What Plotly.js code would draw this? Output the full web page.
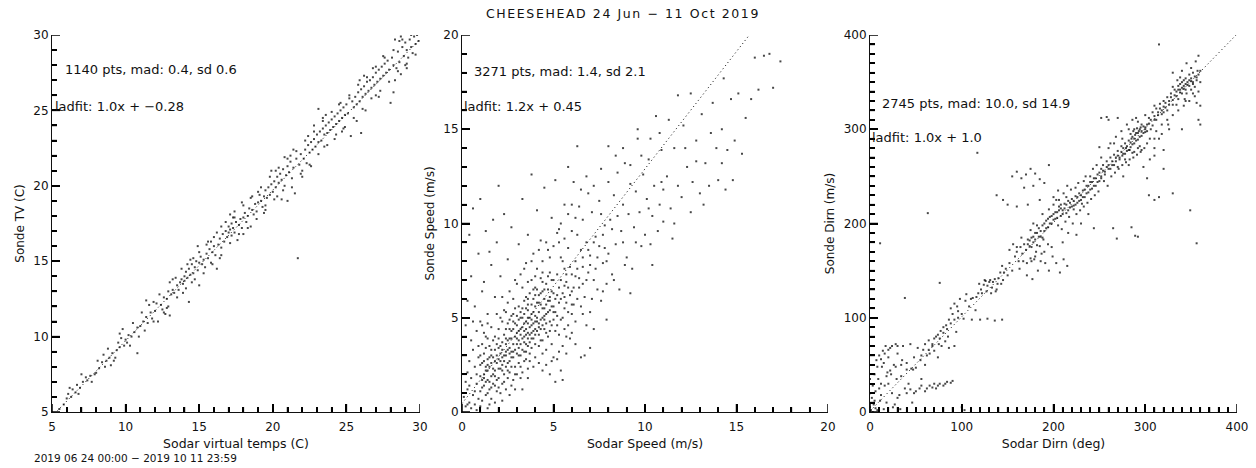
<!DOCTYPE html>
<html>
<head>
<meta charset="utf-8">
<script src="https://cdn.plot.ly/plotly-3.0.1.min.js"></script>
<style>
  html, body { margin: 0; padding: 0; background: #fff; }
  #chart { width: 1256px; height: 468px; }
  .gtitle { letter-spacing: 1.6px; }
</style>
</head>
<body>
<div id="chart"></div>
<script>
const tempPts = [
[5.5,5.2],[5.8,5.5],[6.0,5.9],[6.1,6.2],[6.3,6.0],[6.4,6.5],[6.6,6.3],[6.7,6.8],[6.9,6.6],[7.1,7.0],[7.3,7.3],[7.4,7.1],[7.6,7.4],[7.9,7.5],[8.2,7.9],[8.4,8.3],[8.5,8.8],[8.7,8.4],[8.9,8.6],[9.1,8.9],[9.2,8.4],[9.4,9.1],[9.5,9.6],[9.6,9.3],[9.8,10.5],[9.9,9.4],[10.0,9.8],[10.1,9.6],[10.2,10.1],[10.4,10.0],[10.8,8.9],[9.0,8.1],[8.0,7.6],[9.7,9.9],
[10.6,10.3],[10.8,10.6],[11.0,10.7],[11.2,11.0],[11.4,11.3],[11.5,10.9],[11.7,11.6],[11.8,11.2],[12.0,11.7],[12.1,12.2],[12.2,11.0],[12.4,12.1],[12.5,11.8],[12.6,12.6],[12.8,12.5],[12.9,13.0],[13.0,11.4],[13.1,12.8],[12.7,11.5],[11.9,12.3],
[13.2,13.1],[13.3,12.9],[13.5,13.4],[13.6,13.1],[13.7,13.6],[13.8,13.8],[13.9,13.5],[14.0,14.0],[14.0,13.7],[14.1,14.3],[14.2,13.9],[14.3,14.5],[14.3,12.3],[14.4,14.1],[14.5,14.8],[14.5,13.6],[14.6,14.2],[14.7,14.6],[14.8,15.0],[14.9,14.4],[15.0,14.9],[15.0,13.4],[15.1,15.3],[15.2,14.8],[15.3,15.1],[15.4,14.6],[15.5,15.5],[15.6,15.2],[15.7,15.8],[15.8,14.9],[15.9,15.6],[16.0,16.0],[16.1,15.4],[13.4,13.9],[14.6,15.2],[15.8,16.3],[16.2,14.5],[13.9,12.9],
[16.3,16.1],[16.4,16.5],[16.5,15.9],[16.6,16.8],[16.7,16.3],[16.8,17.0],[16.9,16.6],[17.0,17.3],[17.0,16.9],[17.1,17.1],[17.2,17.5],[17.2,16.7],[17.3,17.2],[17.4,18.3],[17.4,16.9],[17.5,17.6],[17.6,16.4],[17.7,17.4],[17.8,17.8],[17.9,17.2],[18.0,17.9],[18.1,18.2],[18.2,17.6],[18.3,18.0],[18.4,18.5],[18.5,17.3],[18.6,18.4],[18.7,18.1],[18.8,18.8],[18.9,18.3],[19.0,18.9],[19.1,19.4],[17.1,18.1],[16.5,17.3],[18.0,16.8],
[19.2,19.0],[19.3,18.6],[19.4,19.3],[19.5,19.7],[19.6,19.2],[19.7,19.9],[19.8,19.4],[19.9,20.1],[20.0,19.6],[20.1,20.3],[20.2,19.9],[20.3,20.6],[20.3,19.3],[20.4,20.2],[20.5,20.8],[20.6,20.4],[20.7,21.1],[20.8,20.0],[20.9,20.7],[21.0,21.3],[21.0,19.0],[21.1,20.9],[21.2,21.6],[21.3,20.5],[21.4,21.2],[21.5,19.5],[21.6,21.8],[21.7,15.2],[21.8,21.4],[21.9,22.1],[22.0,21.0],[19.5,18.4],[20.6,19.1],[19.9,21.0],[21.4,22.4],
[22.1,21.8],[22.2,22.4],[22.3,21.5],[22.4,22.7],[22.5,22.2],[22.6,22.9],[22.7,22.4],[22.8,23.1],[22.9,22.6],[23.0,23.4],[23.1,25.1],[23.1,22.9],[23.2,23.6],[23.3,23.0],[23.4,23.8],[23.5,23.4],[23.6,24.0],[23.7,23.5],[23.8,24.2],[23.9,23.7],[24.0,24.4],[24.1,23.9],[24.2,24.6],[24.3,24.1],[24.4,24.8],[24.5,24.3],[24.6,25.0],[24.7,24.5],[24.8,25.2],[24.9,24.7],[25.0,25.4],[25.1,24.8],[25.3,23.3],[25.4,25.6],[24.2,23.1],[23.5,22.6],[22.8,24.0],[24.8,23.8],
[25.5,25.2],[25.6,25.9],[25.7,25.4],[25.8,26.2],[25.9,25.6],[26.0,26.4],[26.0,23.5],[26.1,25.9],[26.2,26.6],[26.3,26.1],[26.4,26.9],[26.5,26.3],[26.6,27.0],[26.7,26.5],[26.8,27.2],[26.9,26.7],[27.0,27.5],[27.1,26.9],[27.2,27.7],[27.3,27.1],[27.4,27.9],[27.5,27.3],[27.6,28.1],[27.7,27.5],[27.8,28.3],[27.9,27.7],[28.0,25.5],[26.3,25.0],[25.7,24.3],[27.0,26.0],
[28.1,28.5],[28.2,26.2],[28.3,27.0],[28.3,29.7],[28.4,27.8],[28.5,28.9],[28.6,28.2],[28.7,27.4],[28.8,29.2],[28.9,28.6],[29.0,29.5],[29.1,29.0],[29.2,28.5],[29.3,29.7],[29.4,29.2],[29.5,28.8],[29.6,29.9],[29.7,29.4],[29.8,30.0],[29.9,29.6],[29.1,27.8],[28.6,29.6],[28.2,28.0],
[6.2,6.6],[6.8,6.2],[7.0,7.5],[7.7,7.0],[8.1,8.4],[8.6,8.0],[8.8,9.2],[9.3,8.6],[9.6,10.2],[10.3,9.4],[10.5,10.9],[10.9,10.0],[11.1,11.6],[11.3,10.4],[11.6,12.1],[11.9,11.0],[12.3,12.8],[12.6,11.6],[12.9,12.0],[13.2,13.8],[13.5,12.6],[13.8,14.5],[14.1,13.2],[14.4,15.1],[14.7,13.8],[15.0,15.6],[15.3,14.2],[15.6,16.3],[15.9,14.8],[16.2,16.9],[16.5,15.4],[16.8,17.6],[17.1,16.2],[17.4,17.9],[17.7,16.8],[18.0,18.7],[18.3,17.2],[18.6,19.3],[18.9,17.8],[19.2,19.9],[19.5,18.7],[19.8,20.6],[20.1,19.1],[20.4,21.2],[20.7,19.7],[21.0,21.8],[21.3,19.9],[21.6,22.3],[21.9,20.8],[22.2,23.0],[22.5,21.4],[22.8,23.6],[23.1,22.1],[23.4,24.3],[23.7,22.7],[24.0,24.9],[24.3,23.4],[24.6,25.5],[24.9,23.9],[25.2,26.0],[25.5,24.5],[25.8,26.7],[26.1,25.1],[26.4,27.2],[26.7,25.8],[27.0,27.9],[27.3,26.3],[27.6,28.5],[27.9,26.9],[28.2,29.0],[28.5,27.6],[28.8,29.7],[29.1,28.1],[29.4,30.0],[29.7,28.7],[29.0,28.0],[23.4,24.5],[20.2,21.0],[17.3,17.9],[14.2,14.8],[26.8,27.8],[25.2,25.8],[22.4,23.3],[19.0,19.6],[16.0,16.6],[13.0,13.6],[21.2,22.0],[24.5,25.4],[27.5,28.6],[18.5,19.2],[15.5,16.1],
[11.4,12.4],[12.8,11.9],[14.9,16.0],[16.4,15.2],[17.9,18.9],[19.4,18.2],[20.8,21.9],[22.0,20.6],[23.6,24.7],[24.7,23.6],[26.2,27.3],[27.2,25.9],[28.7,29.9],[25.9,27.0],[22.6,21.3]
];

const speedPts = [
[0.1,0.8],[0.2,0.3],[0.3,1.2],[0.4,0.5],[0.5,1.8],[0.5,0.2],[0.6,0.9],[0.7,2.4],[0.7,0.4],[0.8,1.5],[0.9,0.7],[0.9,2.9],[0.3,2.1],[0.6,3.3],[0.8,0.1],[1.0,1.1],[0.2,1.6],[0.4,2.7],
[1.0,1.9],[1.1,2.6],[1.1,0.6],[1.2,1.4],[1.2,3.1],[1.3,2.2],[1.3,0.9],[1.4,1.7],[1.4,2.8],[1.5,1.2],[1.5,2.4],[1.5,3.5],[1.6,1.9],[1.6,0.7],[1.7,2.9],[1.7,1.5],[1.8,2.2],[1.8,3.3],[1.9,1.1],[1.9,2.6],[2.0,1.8],[2.0,3.9],[1.2,2.0],[1.4,1.0],[1.6,2.6],[1.8,1.4],[1.1,3.6],[1.3,1.6],[1.5,0.4],[1.7,3.8],[1.9,3.0],[1.0,2.5],[1.2,4.2],[1.4,3.9],
[2.1,2.3],[2.1,3.5],[2.2,1.5],[2.2,2.9],[2.3,4.1],[2.3,2.0],[2.4,3.2],[2.4,1.2],[2.5,2.6],[2.5,3.8],[2.5,4.7],[2.6,2.1],[2.6,3.4],[2.7,2.9],[2.7,4.3],[2.8,1.7],[2.8,3.6],[2.8,5.2],[2.9,2.4],[2.9,4.0],[3.0,3.1],[3.0,4.6],[2.2,3.7],[2.4,2.4],[2.6,4.9],[2.3,5.4],[2.7,1.4],[2.9,3.3],[2.1,1.0],[2.5,5.8],[2.6,2.7],[2.8,4.4],[2.3,2.7],[2.7,3.9],[2.4,4.4],[2.9,5.5],[2.0,2.8],[2.2,4.8],
[3.1,3.8],[3.1,2.6],[3.2,4.4],[3.2,5.3],[3.3,3.3],[3.3,2.1],[3.4,4.0],[3.4,5.9],[3.5,3.6],[3.5,4.8],[3.5,2.8],[3.6,5.4],[3.6,4.2],[3.7,3.1],[3.7,6.3],[3.8,4.6],[3.8,5.7],[3.9,3.9],[3.9,2.4],[4.0,5.1],[4.0,6.6],[3.2,3.0],[3.4,4.7],[3.6,3.5],[3.8,3.4],[3.3,5.0],[3.1,4.9],[3.5,6.1],[3.7,4.5],[3.9,5.3],[3.0,2.0],[3.6,2.3],[3.3,6.6],[3.8,7.0],[3.4,3.7],[3.2,1.8],[3.9,4.3],[3.7,5.0],[3.5,4.1],[3.1,5.6],
[4.1,4.3],[4.1,5.8],[4.2,3.5],[4.2,6.2],[4.3,4.9],[4.3,7.1],[4.4,5.5],[4.4,3.1],[4.5,6.0],[4.5,4.4],[4.6,6.8],[4.6,5.2],[4.7,4.0],[4.7,5.9],[4.8,7.4],[4.8,4.8],[4.9,6.4],[4.9,3.6],[5.0,5.6],[5.0,7.0],[4.2,2.6],[4.4,6.9],[4.6,3.3],[4.8,5.4],[4.1,7.6],[4.3,5.7],[4.5,5.1],[4.7,6.5],[4.9,4.6],[4.0,4.1],[4.4,8.0],[4.6,2.5],[4.2,4.7],[4.8,6.1],
[5.1,6.0],[5.1,4.3],[5.2,7.3],[5.2,5.1],[5.3,6.6],[5.4,8.2],[5.4,4.9],[5.5,6.3],[5.5,3.5],[5.6,7.6],[5.6,5.5],[5.7,6.9],[5.8,4.6],[5.8,8.7],[5.9,6.2],[6.0,7.3],[6.0,5.2],[5.3,9.0],[5.7,5.8],[5.9,3.9],[5.2,2.8],[5.5,8.0],[5.6,6.7],[5.0,2.9],
[6.1,6.6],[6.2,8.0],[6.2,4.8],[6.3,9.4],[6.4,7.1],[6.5,5.6],[6.5,8.6],[6.6,7.7],[6.6,10.2],[6.7,6.1],[6.8,9.0],[6.9,7.4],[7.0,8.3],[7.0,5.3],[7.1,10.6],[7.2,7.0],[7.3,9.3],[7.4,6.5],[7.5,8.8],[7.5,11.2],[7.6,5.9],[7.7,7.9],[7.8,9.9],[7.9,6.8],[8.0,8.4],[6.3,6.0],[6.8,4.6],[7.2,4.4],[7.6,10.5],[6.4,10.9],[6.0,9.6],[7.9,4.9],[6.7,3.0],[6.9,11.6],
[8.1,10.2],[8.2,7.3],[8.3,11.5],[8.4,8.9],[8.5,12.7],[8.6,6.5],[8.7,9.6],[8.8,11.0],[8.9,13.2],[9.0,8.2],[9.1,10.5],[9.2,12.1],[9.3,7.6],[9.4,9.8],[9.5,11.7],[9.6,14.5],[9.7,10.6],[9.8,8.8],[9.9,12.6],[10.0,9.4],[10.1,11.3],[10.2,13.4],[10.3,8.9],[10.4,10.4],[10.5,12.0],[10.6,15.7],[10.7,9.6],[10.8,11.0],[10.9,13.9],[11.0,10.1],[8.0,14.1],[9.2,6.3],[10.4,7.8],[9.6,15.0],
[11.2,12.5],[11.4,10.8],[11.6,14.0],[11.8,12.0],[12.0,11.4],[12.1,15.2],[12.3,13.0],[12.5,10.6],[12.6,12.2],[12.8,14.4],[13.0,11.6],[13.1,15.8],[13.3,13.2],[13.5,12.0],[13.7,16.4],[13.9,14.0],[14.0,12.3],[14.2,15.0],[14.4,11.8],[14.5,13.9],[14.7,16.6],[14.9,14.4],[15.1,16.9],[15.3,13.7],[15.5,15.6],[12.5,16.9],[11.0,11.8],[13.2,11.0],[14.8,12.3],[11.5,9.2],
[16.2,17.1],[16.5,18.9],[16.8,19.0],[17.0,17.2],[17.4,18.6],[16.0,18.8],[15.8,16.6],[14.3,17.7],
[0.3,5.9],[0.5,7.2],[0.6,10.8],[0.7,5.6],[0.9,8.4],[1.0,11.3],[1.1,6.4],[1.3,9.6],[1.4,5.2],[1.6,7.8],[1.7,10.2],[1.8,6.1],[1.9,9.0],[2.0,12.0],[0.4,9.4],[0.8,4.3],[1.2,6.9],[1.5,8.5],[2.1,7.2],[2.3,10.5],[2.5,8.1],[2.7,9.8],[2.9,7.0],[3.1,8.9],[3.3,11.3],[3.5,7.9],[3.6,9.4],[3.8,12.6],[3.9,8.4],[4.1,10.7],[4.3,9.1],[4.5,11.9],[4.7,8.6],[4.9,10.3],[5.1,12.3],[5.3,9.7],[5.6,11.0],[5.8,13.0],[6.1,12.2],[6.3,14.1],[0.2,4.6],[1.0,4.8],
[5.4,2.2],[5.7,3.1],[6.2,3.6],[6.5,2.9],[5.1,1.6],[5.5,1.7],[4.8,2.0],[7.0,3.4],
[2.2,3.3],[2.4,3.0],[2.6,3.9],[2.8,2.9],[3.0,3.6],[3.2,4.1],[3.4,2.7],[3.6,4.7],[3.8,3.9],[4.0,4.8],[4.2,5.3],[4.4,4.6],[2.5,2.2],[2.7,3.2],[2.9,4.7],[3.1,3.4],[3.3,4.5],[3.5,5.5],[3.7,3.7],[3.9,6.0],[4.1,5.0],[4.3,3.8],[4.5,5.5],[1.3,2.4],[1.5,1.6],[1.7,2.3],[1.9,1.7],[1.1,1.3],[2.1,2.7],[2.3,1.6],
[1.0,0.3],[1.1,1.7],[1.2,2.7],[1.3,3.4],[1.4,2.2],[1.5,2.9],[1.6,1.3],[1.7,2.0],[1.8,2.7],[1.9,3.6],[2.0,2.3],[2.0,1.3],[2.1,3.1],[2.2,2.2],[2.3,3.0],[2.4,3.6],[2.5,1.8],[2.5,3.3],[2.6,4.4],[2.7,2.4],[2.7,5.1],[2.8,3.2],[2.9,2.0],[3.0,3.9],[3.0,5.1],[3.1,3.0],[3.1,4.3],[3.2,3.6],[3.2,2.4],[3.3,3.9],[3.3,5.5],[3.4,3.2],[3.4,5.2],[3.5,4.4],[3.5,3.2],[3.6,3.9],[3.6,5.0],[3.6,6.0],[3.7,4.1],[3.7,2.7],[3.8,4.2],[3.8,5.2],[3.9,4.7],[3.9,6.5],[4.0,3.6],[4.0,5.6],[4.0,4.4],[4.1,4.8],[4.1,6.5],[4.2,5.8],[4.2,4.1],[4.3,4.4],[4.3,6.3],[4.4,5.0],[4.4,3.8],[4.5,4.9],[4.5,6.5],[4.6,5.7],[4.6,4.2],[4.7,5.3],[4.7,7.2],[4.8,4.3],[4.9,5.6],[4.9,7.0],[5.0,4.9],[5.0,6.3],[5.1,5.3],[5.2,6.2],[5.3,5.8],[5.3,4.1],[5.4,7.0],[5.5,5.0],[5.6,6.1],[5.7,7.3],[5.8,5.3],[5.9,7.7],[6.0,6.4],[6.1,5.7],[6.2,7.2],[6.4,6.6],[6.6,8.2],[6.8,7.0],[7.0,7.8],[7.2,9.0],[7.4,8.2],[7.7,9.4],[7.9,8.0],[8.2,9.7],[8.5,10.4],[8.8,9.0],
[0.5,3.8],[0.6,4.8],[0.7,1.1],[0.8,2.0],[0.9,3.5],[0.4,1.4],[0.3,0.4],[1.0,3.0],[1.1,4.6],[1.3,4.0],[1.4,4.7],[1.6,3.3],[1.6,4.5],[1.8,4.0],[1.9,5.2],[2.0,4.4],[2.1,5.0],[2.2,6.1],[2.4,5.3],[2.6,6.4],[2.8,6.0],[3.0,6.8],[3.2,7.3],[3.4,7.6],[3.6,6.9],[3.8,8.0],[4.0,7.2],[4.2,8.6],[4.4,7.4],[4.6,9.0],[4.8,8.2],[5.0,8.8],[5.2,9.5],[5.4,10.0],[5.6,9.2],[5.8,10.5],[6.0,11.0],[6.2,10.3],[6.5,11.8],[6.8,12.5],[7.2,12.0],[7.6,12.9],[8.0,12.2],[8.4,13.6],[8.8,14.0],[9.2,13.1],[9.8,13.6],[10.3,14.5],[10.8,14.8],[11.3,15.5],[11.8,16.8],[12.2,14.0],[12.8,13.3],[13.6,14.8],[14.2,13.2],[11.6,10.0],[10.9,12.2],[10.2,10.8],[9.5,9.0],[8.9,7.8],[8.3,7.0],[7.7,6.4],[7.1,6.0],[6.6,5.2],[6.0,4.2],[5.7,4.0],[5.3,3.2],[4.9,2.7],[4.4,2.2],[4.0,2.9],[3.6,1.8],[3.3,1.2],[2.9,1.2],[2.6,0.9],[2.2,0.6],[1.8,0.5],[1.4,0.2],
[1.2,1.8],[1.4,2.5],[1.6,3.0],[1.8,1.9],[2.0,3.4],[2.2,2.5],[2.4,3.9],[2.6,3.1],[2.8,4.8],[3.0,4.2],[3.2,5.0],[3.4,4.3],[3.6,5.7],[3.8,4.9],[4.0,6.2],[4.2,4.5],[4.4,6.4],[4.6,4.7],[4.8,5.9],[5.0,5.3],[5.2,4.6],[5.4,6.0],[5.6,4.4],[5.8,6.6],[6.0,5.7],[6.3,7.6],[6.6,6.8],[6.9,8.6],[7.3,7.6],[7.8,8.7]
];

const dirnPts = [
[100,104],[104,118],[108,112],[112,121],[115,108],[118,126],[121,130],[124,135],[127,128],[130,138],[133,132],[136,141],[139,136],[142,148],[145,140],[148,152],[150,145],[119,136],[126,139],[132,126],[138,130],[144,155],[111,98],[120,98],[128,99],[136,97],[144,98],[98,120],[95,112],[90,104],[86,98],[83,92],[80,90],[77,86],[74,82],[70,78],[92,115],[96,107],[102,99],[105,125],[88,110],
[152,158],[155,150],[158,165],[160,170],[162,160],[164,175],[166,168],[168,178],[170,172],[172,183],[174,176],[175,193],[176,185],[178,180],[180,190],[182,177],[184,195],[186,186],[188,198],[190,192],[192,203],[194,196],[196,207],[198,200],[200,210],[163,152],[167,160],[171,158],[175,163],[179,162],[183,150],[187,168],[191,158],[195,150],[199,165],[203,158],[207,148],[211,162],[215,155],[171,145],[177,141],[185,176],[189,183],[181,170],[160,175],[156,178],[165,185],[152,172],
[155,250],[160,255],[165,248],[170,252],[175,258],[180,253],[185,247],[190,243],[178,240],[168,238],[195,262],[145,225],[138,230],[150,220],[160,218],[172,220],[185,225],[195,215],[200,228],[205,235],
[202,205],[204,212],[206,218],[208,208],[210,214],[212,221],[214,211],[216,224],[218,217],[220,226],[222,215],[224,229],[226,222],[228,232],[230,225],[232,235],[234,228],[236,240],[238,233],[240,244],[242,237],[244,248],[246,240],[248,252],[250,245],[205,198],[209,194],[213,202],[217,207],[221,200],[225,210],[229,214],[233,218],[237,222],[241,226],[245,230],[249,234],[203,225],[211,232],[219,236],[227,243],[235,250],[243,258],[216,190],[230,200],[238,210],[244,195],[210,180],[225,188],[233,245],[247,262],[250,281],[252,258],[208,220],[214,228],[222,219],[231,221],
[252,250],[254,262],[256,255],[258,266],[260,258],[262,270],[264,262],[266,273],[268,266],[270,277],[272,270],[274,282],[276,274],[278,285],[280,277],[282,288],[284,281],[286,292],[288,285],[290,296],[292,289],[294,300],[296,293],[298,303],[300,297],[255,245],[259,240],[263,250],[267,254],[271,258],[275,262],[279,265],[283,268],[287,270],[291,273],[295,276],[299,280],[262,285],[268,292],[274,298],[280,305],[286,310],[290,312],[270,312],[260,310],[252,312],[258,313],[265,195],[269,184],[289,187],[292,186],[285,196],[298,260],[302,248],[305,268],[310,272],[304,230],[310,225],[315,228],[320,258],[330,232],[282,262],[276,250],[296,305],[300,302],[288,300],[284,295],
[302,305],[304,312],[306,300],[308,318],[310,310],[312,322],[314,315],[316,327],[318,320],[320,330],[322,323],[324,334],[326,326],[328,338],[330,331],[332,342],[334,335],[336,346],[338,339],[340,350],[342,343],[344,354],[346,347],[348,358],[350,351],[352,360],[354,345],[356,355],[358,340],[360,350],[305,290],[312,298],[318,305],[324,310],[330,315],[336,320],[342,325],[348,330],[354,335],[360,325],[340,362],[345,370],[350,365],[355,372],[358,378],[330,360],[335,352],[345,338],[350,342],[356,328],[358,310],[360,305],[315,390],[349,214],[356,179],[340,300],[325,305],[320,278],[315,290],[310,280],[330,345],[338,355],[343,332],[352,348],[357,362],
[0,5],[2,15],[3,28],[4,8],[5,40],[6,22],[7,55],[8,2],[9,35],[10,60],[11,12],[12,18],[13,48],[14,65],[15,3],[16,28],[17,70],[18,10],[19,42],[20,58],[22,68],[24,20],[25,5],[26,50],[28,72],[30,62],[32,18],[34,38],[36,70],[38,25],[40,45],[42,30],[44,72],[45,46],[47,45],[48,20],[50,47],[52,68],[54,25],[56,35],[58,66],[60,22],[62,60],[65,28],[68,72],[70,30],[72,25],[74,58],[76,30],[78,70],[80,28],[82,75],[84,32],[86,68],[88,31],[90,33],[92,70],[94,85],[5,12],[1,2],[3,0],[6,4],[10,25],[20,30],[30,15],[35,55],[55,55],[60,50],[65,62],[70,65],[75,72],[85,80],[100,5],[103,2],[110,1],[38,121],[11,179],[63,211],[117,275],[76,137],[0,20],[0,35],[1,50],[2,70],[23,40],[27,8],[33,3],[46,10],[15,52],[29,35],
[172,178],[174,182],[176,175],[178,186],[180,183],[182,190],[184,186],[186,192],[188,185],[190,200],[192,195],[194,205],[196,200],[198,208],[200,204],[202,212],[204,206],[206,214],[208,216],[210,210],[212,216],[214,220],[216,214],[218,222],[220,218],[222,224],[224,220],[226,228],[228,224],[230,230],[232,228],[234,236],[236,232],[238,240],[240,236],[242,244],[244,240],[246,248],[248,244],[250,254],[252,248],[254,256],[256,252],[258,260],[260,262],[262,258],[264,266],[266,262],[268,270],[270,272],[272,268],[274,276],[276,280],[278,274],[280,282],[282,278],[284,286],[286,284],[288,290],[290,288],[292,296],[294,292],[296,298],[298,296],[300,300],[302,298],[304,306],[306,310],[308,304],[310,314],[312,310],[314,318],[316,322],[318,316],[320,324],[322,328],[324,320],[326,330],[328,334],[330,326],[332,336],[334,340],[336,332],[338,342],[340,338],[342,346],[344,342],[346,350],[348,346],[350,354],[352,350],[354,356],[356,352],[358,358],[360,362],
[176,160],[180,165],[186,160],[190,170],[194,178],[198,175],[182,198],[178,200],[188,210],[200,220],[206,225],[215,240],[224,238],[240,250],[252,270],[260,280],[266,285],[275,290],[282,300],[292,308],[300,315],[310,325],[320,318],[334,326],[344,330],[352,338],[270,260],[278,268],[286,275],[294,282],[302,285],[310,290],[318,295],[326,300],[283,278],[288,276],[292,280],[296,278],[279,280],[275,272],[285,290],[291,301],[293,298],[295,302],[289,294],[287,298],[338,348],[342,352],[340,344],[336,342],[344,348],[348,352],
[110,120],[116,122],[122,126],[128,134],[134,138],[140,142],[146,148],[125,140],[131,140],[137,128],[143,136],[60,72],[64,76],[68,70],[72,80],[76,78],[80,84],[84,88],[88,94],[92,98],[96,100],[40,20],[44,24],[50,22],[56,28],[62,25],[68,26],[74,28],[82,30],[8,48],[12,56],[16,62],[20,66],[24,70],[30,70],[12,30],[18,38],[22,44],[28,48],[34,50],[40,52],[48,58],[56,60],[64,66]
];

const tempFit  = { x: [5, 30],    slope: 1.0,   icpt: -0.28 };
const speedFit = { x: [0, 15.7],  slope: 1.245, icpt: 0.45 };
const dirnFit  = { x: [0, 399],   slope: 1.0,   icpt: 1.0 };

const mainTitle = 'CHEESEHEAD 24 Jun \u2212 11 Oct 2019';
const statTexts = ['1140 pts, mad: 0.4, sd 0.6', '3271 pts, mad: 1.4, sd 2.1', '2745 pts, mad: 10.0, sd 14.9'];
const fitTexts  = ['ladfit: 1.0x + \u22120.28', 'ladfit: 1.2x + 0.45', 'ladfit: 1.0x + 1.0'];
const xTitles   = ['Sodar virtual temps (C)', 'Sodar Speed (m/s)', 'Sodar Dirn (deg)'];
const yTitles   = ['Sonde TV (C)', 'Sonde Speed (m/s)', 'Sonde Dirn (m/s)'];
const footer    = '2019 06 24 00:00 \u2212 2019 10 11 23:59';
const ranges    = [[5, 30], [0, 20], [0, 400]];
const majorTick = [5, 5, 100];
const minorTick = [1, 1, 10];

const W = 1256, H = 468;
const FONT = 'DejaVu Sans, sans-serif';
const INK = '#111';
const TICK = '#000';
const px = [[52, 420], [462, 828], [870, 1237]];
const py = [35, 412];
const MAJOR_LEN = 8, MINOR_LEN = 5;

function sfx(i) { return i === 0 ? '' : String(i + 1); }
function isMajor(v, i) { const q = v / majorTick[i]; return Math.abs(q - Math.round(q)) < 1e-9; }

function scatter(pts, i) {
  return { type: 'scatter', mode: 'markers', x: pts.map(p => p[0]), y: pts.map(p => p[1]),
    xaxis: 'x' + sfx(i), yaxis: 'y' + sfx(i), hoverinfo: 'skip',
    marker: { symbol: 'square', size: 2, color: 'rgba(0,0,0,0.72)', line: { width: 0 } } };
}
function fitLine(f, i) {
  return { type: 'scatter', mode: 'lines', x: f.x, y: f.x.map(v => f.slope * v + f.icpt),
    xaxis: 'x' + sfx(i), yaxis: 'y' + sfx(i), hoverinfo: 'skip',
    line: { color: '#000', width: 1, dash: '1px,3px' } };
}
// IDL-style inward ticks (incl. end ticks), drawn through the axes' own scales
function tickTrace(i) {
  const r = ranges[i];
  const perX = (px[i][1] - px[i][0]) / (r[1] - r[0]);
  const perY = (py[1] - py[0]) / (r[1] - r[0]);
  const n = Math.round((r[1] - r[0]) / minorTick[i]);
  const xs = [], ys = [];
  for (let k = 0; k <= n; k++) {
    const v = r[0] + k * minorTick[i];
    const len = isMajor(v, i) ? MAJOR_LEN : MINOR_LEN;
    xs.push(v, v, null); ys.push(r[0], r[0] + len / perY, null);
    xs.push(r[0], r[0] + len / perX, null); ys.push(v, v, null);
  }
  return { type: 'scatter', mode: 'lines', x: xs, y: ys, xaxis: 'x' + sfx(i), yaxis: 'y' + sfx(i),
    hoverinfo: 'skip', cliponaxis: false, connectgaps: false, line: { color: TICK, width: 1.5 } };
}

const data = [scatter(tempPts, 0), scatter(speedPts, 1), scatter(dirnPts, 2),
              fitLine(tempFit, 0), fitLine(speedFit, 1), fitLine(dirnFit, 2),
              tickTrace(0), tickTrace(1), tickTrace(2)];

function axis(i, letter) {
  const dom = letter === 'x' ? [px[i][0] / W, px[i][1] / W] : [1 - py[1] / H, 1 - py[0] / H];
  const a = {
    domain: dom, range: ranges[i], dtick: majorTick[i],
    ticks: 'inside', ticklen: MAJOR_LEN, tickcolor: TICK, tickwidth: 1.5,
    minor: { dtick: minorTick[i], ticks: 'inside', ticklen: MINOR_LEN, tickcolor: TICK, tickwidth: 1.5 },
    showline: true, linecolor: INK,
    showgrid: false, zeroline: false,
    tickfont: { family: FONT, size: 12, color: INK },
    anchor: (letter === 'x' ? 'y' : 'x') + sfx(i)
  };
  if (letter === 'x') {
    a.ticklabelstandoff = 4;
    a.title = { text: xTitles[i], font: { family: FONT, size: 12.5, color: INK }, standoff: 5 };
  } else {
    a.title = { text: yTitles[i], font: { family: FONT, size: 12, color: INK }, standoff: 6 };
  }
  return a;
}

const statPos = [[63, 69], [472, 71], [880, 103]];
const fitPos  = [[53, 107], [462, 107], [870, 137]];
const annotations = [];
for (let i = 0; i < 3; i++) {
  annotations.push({ text: statTexts[i], xref: 'paper', yref: 'paper', x: statPos[i][0] / W, y: 1 - statPos[i][1] / H,
    xanchor: 'left', yanchor: 'middle', showarrow: false, font: { family: FONT, size: 13, color: INK } });
}
for (let i = 0; i < 3; i++) {
  annotations.push({ text: fitTexts[i], xref: 'paper', yref: 'paper', x: fitPos[i][0] / W, y: 1 - fitPos[i][1] / H,
    xanchor: 'left', yanchor: 'middle', showarrow: false, font: { family: FONT, size: 13, color: INK } });
}
annotations.push({ text: footer, xref: 'paper', yref: 'paper', x: 32 / W, y: 1 - 458 / H,
  xanchor: 'left', yanchor: 'middle', showarrow: false, font: { family: FONT, size: 10.5, color: INK } });

const layout = {
  width: W, height: H, margin: { l: 0, r: 0, t: 0, b: 0 }, showlegend: false,
  title: { text: mainTitle, x: 623 / W, y: 1 - 14 / H, xanchor: 'center', yanchor: 'middle', xref: 'paper', yref: 'paper',
    font: { family: FONT, size: 12.5, color: INK } },
  xaxis: axis(0, 'x'), yaxis: axis(0, 'y'),
  xaxis2: axis(1, 'x'), yaxis2: axis(1, 'y'),
  xaxis3: axis(2, 'x'), yaxis3: axis(2, 'y'),
  annotations: annotations
};

Plotly.newPlot('chart', data, layout, { displayModeBar: false });
</script>
</body>
</html>
